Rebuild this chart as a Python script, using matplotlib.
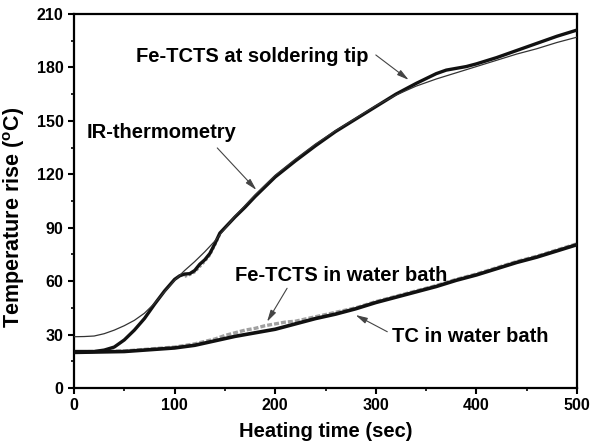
import matplotlib
matplotlib.use("Agg")
import matplotlib.pyplot as plt
from matplotlib.ticker import MultipleLocator

plt.rcParams['font.family'] = ['Liberation Sans', 'DejaVu Sans']
plt.rcParams['font.weight'] = 'bold'
plt.rcParams['mathtext.fontset'] = 'custom'
plt.rcParams['mathtext.rm'] = 'Liberation Sans:bold'
plt.rcParams['mathtext.bf'] = 'Liberation Sans:bold'

# IR-thermometry (thin line)
ir_x = [0, 10, 20, 30, 40, 50, 60, 70, 80, 90, 100, 110, 120, 130, 140, 150, 160, 170, 180,
        190, 200, 210, 220, 240, 260, 280, 300, 320, 340, 360, 380, 400, 420, 440, 460, 480, 500]
ir_y = [28.8, 28.9, 29.2, 30.5, 32.5, 35, 38, 42, 47.5, 54, 60.5, 66, 71, 76.5, 82.5, 89.5, 96.5,
        102.5, 108.5, 114, 119.5, 124, 128.5, 137, 144.5, 151.5, 158.5, 164.5, 169.5, 173.5,
        177, 180.5, 184, 187.5, 190.5, 194, 197]

# Fe-TCTS at soldering tip (thick line)
tip_x = [0, 10, 20, 30, 40, 50, 60, 70, 80, 90, 100, 105, 110, 115, 120, 125, 130, 135, 140,
         145, 150, 160, 170, 180, 190, 200, 220, 240, 260, 280, 300, 320, 340, 360, 370, 380,
         390, 400, 420, 440, 460, 480, 500]
tip_y = [20.5, 20.5, 20.5, 21.3, 23, 27, 32.5, 39, 47, 54.5, 61, 63, 64, 64.2, 66, 69.5, 72,
         75.5, 81, 87, 90, 96, 101.5, 107.5, 113, 118.5, 127.5, 136, 144, 151, 158, 165, 171,
         176.5, 178.5, 179.5, 180.5, 182, 185.5, 189.5, 193.5, 197.5, 201]

# Fe-TCTS at soldering tip, grey scatter in the step region
tipnoise_x = [110, 115, 120, 125, 130, 135, 140, 145]
tipnoise_y = [62.5, 63.5, 65, 68, 71, 74.5, 80, 86]

# Fe-TCTS in water bath (grey, noisy)
fbath_x = [0, 50, 100, 120, 140, 150, 160, 170, 180, 190, 200, 210, 220, 240, 260, 280, 300,
           320, 340, 360, 380, 400, 420, 440, 460, 480, 500]
fbath_y = [20.3, 20.8, 23, 24.8, 27.5, 29.5, 31, 32.5, 33.5, 35, 36, 37, 37.5, 40, 42.5, 45,
           48.5, 51.5, 54.5, 57.5, 61, 64, 67.5, 71, 74, 77.5, 81]

# TC in water bath (black)
tc_x = [0, 50, 100, 120, 140, 160, 180, 200, 220, 240, 260, 280, 300, 320, 340, 360, 380, 400,
        420, 440, 460, 480, 500]
tc_y = [20, 20.5, 22.5, 24, 26.5, 29, 31, 33, 36, 39, 41.5, 44.5, 48, 51, 54, 57, 60.5, 63.5,
        67, 70.5, 73.5, 77, 80.5]

fig = plt.figure(figsize=(5.92, 4.46), dpi=100)
ax = fig.add_axes([0.125, 0.130, 0.8497, 0.8386])

ax.plot(fbath_x, fbath_y, color='#a0a0a0', lw=2.4, ls=(0, (1.5, 0.6)), zorder=2)
ax.plot(tc_x, tc_y, color='#111111', lw=2.6, zorder=3)
ax.plot(tipnoise_x, tipnoise_y, color='#9a9a9a', lw=1.8, ls=(0, (1, 0.8)), zorder=2)
ax.plot(tip_x, tip_y, color='#111111', lw=2.4, zorder=3)
ax.plot(ir_x, ir_y, color='#333333', lw=0.9, zorder=4)

ax.set_xlim(0, 500)
ax.set_ylim(0, 210)
ax.xaxis.set_major_locator(MultipleLocator(100))
ax.xaxis.set_minor_locator(MultipleLocator(50))
ax.yaxis.set_major_locator(MultipleLocator(30))
ax.yaxis.set_minor_locator(MultipleLocator(15))
ax.tick_params(which='major', direction='out', length=4.5, width=1.5, labelsize=11.5, pad=3)
ax.tick_params(which='minor', direction='out', length=2.5, width=1.2)
for lab in ax.get_xticklabels() + ax.get_yticklabels():
    lab.set_fontweight('bold')
for s in ax.spines.values():
    s.set_linewidth(1.6)

ax.set_xlabel('Heating time (sec)', fontsize=14.5, fontweight='bold', labelpad=6)
ax.set_ylabel(r'Temperature rise ($^{\mathrm{o}}$C)', fontsize=15.5, fontweight='bold')
ax.yaxis.set_label_coords(-0.094, 0.455)

arrow = dict(arrowstyle='-|>,head_length=0.7,head_width=0.18', color='#444444', lw=0.8,
             mutation_scale=10, shrinkA=0, shrinkB=0)
ax.annotate('', xy=(332.7, 173), xytext=(300, 187), arrowprops=arrow)
ax.text(61.8, 183.2, 'Fe-TCTS at soldering tip', fontsize=14.5, fontweight='bold', va='baseline')
ax.annotate('', xy=(181.3, 111.2), xytext=(142.4, 134.8), arrowprops=arrow)
ax.text(12.6, 140.5, 'IR-thermometry', fontsize=14.5, fontweight='bold', va='baseline')
ax.annotate('', xy=(191.9, 37.2), xytext=(211.8, 56), arrowprops=arrow)
ax.text(160.4, 60.3, 'Fe-TCTS in water bath', fontsize=14.5, fontweight='bold', va='baseline')
ax.annotate('', xy=(279.9, 41), xytext=(311.4, 31.6), arrowprops=arrow)
ax.text(316.4, 26, 'TC in water bath', fontsize=14.5, fontweight='bold', va='baseline')

fig.savefig('out.png', dpi=100)
